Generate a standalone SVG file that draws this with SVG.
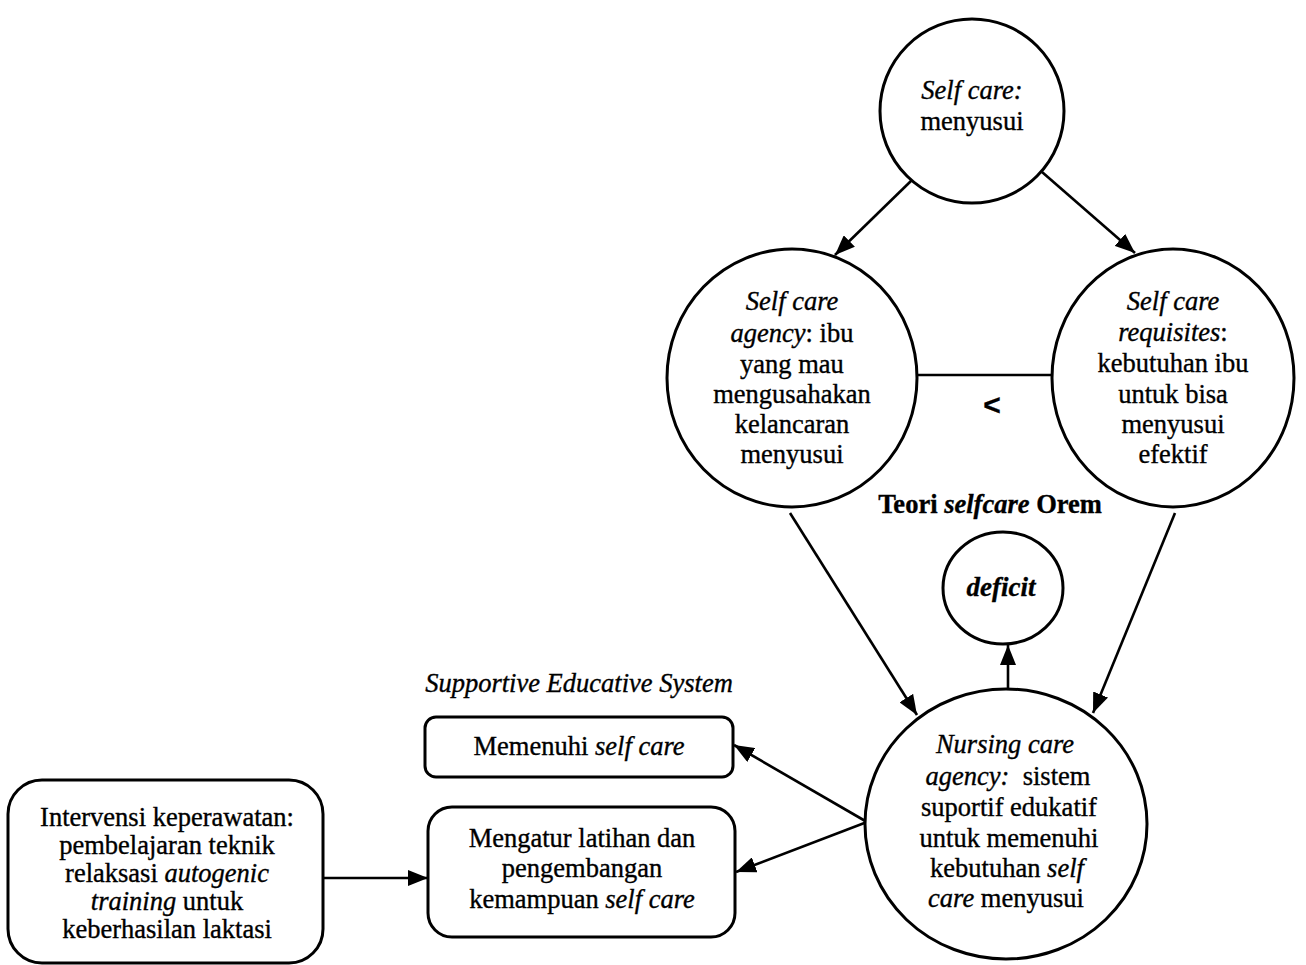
<svg xmlns="http://www.w3.org/2000/svg" width="1306" height="965" viewBox="0 0 1306 965">
  <style>
    .node { fill: #ffffff; stroke: #000000; stroke-width: 3; }
    .edge { fill: none; stroke: #000000; stroke-width: 2.6; }
    text { font-family: "Liberation Serif", "Times New Roman", serif; font-size: 26.5px; fill: #000000; stroke: #000000; stroke-width: 0.35; text-anchor: middle; }
    .it { font-style: italic; }
    .b { font-weight: bold; }
    .sign { font-family: "Liberation Sans", Arial, sans-serif; font-size: 30px; font-weight: bold; }
  </style>
  <defs>
    <marker id="arrow" viewBox="0 0 20 16" refX="20" refY="8" markerWidth="20" markerHeight="16" markerUnits="userSpaceOnUse" orient="auto">
      <path d="M0,0 L20,8 L0,16 Z" fill="#000000"/>
    </marker>
  </defs>
  <rect width="1306" height="965" fill="#ffffff"/>

  <!-- connectors -->
  <g id="connectors">
    <line class="edge" x1="912" y1="180" x2="835" y2="255" marker-end="url(#arrow)"/>
    <line class="edge" x1="1042" y1="172" x2="1135" y2="253" marker-end="url(#arrow)"/>
    <line class="edge" x1="917" y1="375" x2="1052" y2="375"/>
    <line class="edge" x1="790" y1="513" x2="917" y2="715" marker-end="url(#arrow)"/>
    <line class="edge" x1="1175" y1="513" x2="1093" y2="713" marker-end="url(#arrow)"/>
    <line class="edge" x1="1008" y1="690" x2="1008" y2="645" marker-end="url(#arrow)"/>
    <line class="edge" x1="867" y1="822" x2="734" y2="745" marker-end="url(#arrow)"/>
    <line class="edge" x1="867" y1="822" x2="736" y2="872" marker-end="url(#arrow)"/>
    <line class="edge" x1="323" y1="878" x2="428" y2="878" marker-end="url(#arrow)"/>
  </g>

  <!-- top: self care -->
  <g id="self-care">
    <circle class="node" cx="972" cy="111" r="92"/>
    <text x="972" y="99"><tspan class="it">Self care:</tspan></text>
    <text x="972" y="130">menyusui</text>
  </g>

  <!-- self care agency -->
  <g id="self-care-agency">
    <ellipse class="node" cx="792" cy="378" rx="125" ry="129"/>
    <text x="792" y="310" class="it">Self care</text>
    <text x="792" y="342"><tspan class="it">agency</tspan>: ibu</text>
    <text x="792" y="373">yang mau</text>
    <text x="792" y="403">mengusahakan</text>
    <text x="792" y="433">kelancaran</text>
    <text x="792" y="463">menyusui</text>
  </g>

  <!-- self care requisites -->
  <g id="self-care-requisites">
    <ellipse class="node" cx="1173" cy="378" rx="121" ry="129"/>
    <text x="1173" y="310" class="it">Self care</text>
    <text x="1173" y="341"><tspan class="it">requisites</tspan>:</text>
    <text x="1173" y="372">kebutuhan ibu</text>
    <text x="1173" y="403">untuk bisa</text>
    <text x="1173" y="433">menyusui</text>
    <text x="1173" y="463">efektif</text>
  </g>

  <!-- relation sign between the two -->
  <g id="less-than">
    <text x="992" y="415" class="sign">&lt;</text>
  </g>

  <!-- theory title -->
  <g id="title">
    <text x="990" y="513" class="b">Teori <tspan class="it">selfcare</tspan> Orem</text>
  </g>

  <!-- deficit -->
  <g id="deficit">
    <ellipse class="node" cx="1003" cy="588" rx="60" ry="56"/>
    <text x="1001" y="596" class="it b" style="font-size:27px">deficit</text>
  </g>

  <!-- nursing care agency -->
  <g id="nursing-care-agency">
    <ellipse class="node" cx="1006" cy="824" rx="141" ry="135"/>
    <text x="1005" y="753" class="it">Nursing care</text>
    <text x="1008" y="785" xml:space="preserve"><tspan class="it">agency:</tspan>  sistem</text>
    <text x="1009" y="816">suportif edukatif</text>
    <text x="1009" y="847">untuk memenuhi</text>
    <text x="1007" y="877">kebutuhan <tspan class="it">self</tspan></text>
    <text x="1006" y="907"><tspan class="it">care</tspan> menyusui</text>
  </g>

  <!-- supportive educative system label -->
  <g id="system-label">
    <text x="579" y="692" class="it">Supportive Educative System</text>
  </g>

  <!-- box: memenuhi self care -->
  <g id="memenuhi">
    <rect class="node" x="425" y="717" width="308" height="60" rx="11" ry="11"/>
    <text x="579" y="755">Memenuhi <tspan class="it">self care</tspan></text>
  </g>

  <!-- box: mengatur latihan -->
  <g id="mengatur">
    <rect class="node" x="428" y="807" width="307" height="130" rx="24" ry="24"/>
    <text x="582" y="847">Mengatur latihan dan</text>
    <text x="582" y="877">pengembangan</text>
    <text x="582" y="908">kemampuan <tspan class="it">self care</tspan></text>
  </g>

  <!-- box: intervensi -->
  <g id="intervensi">
    <rect class="node" x="8" y="780" width="315" height="183" rx="34" ry="34"/>
    <text x="167" y="826">Intervensi keperawatan:</text>
    <text x="167" y="854">pembelajaran teknik</text>
    <text x="167" y="882">relaksasi <tspan class="it">autogenic</tspan></text>
    <text x="167" y="910"><tspan class="it">training</tspan> untuk</text>
    <text x="167" y="938">keberhasilan laktasi</text>
  </g>
</svg>
